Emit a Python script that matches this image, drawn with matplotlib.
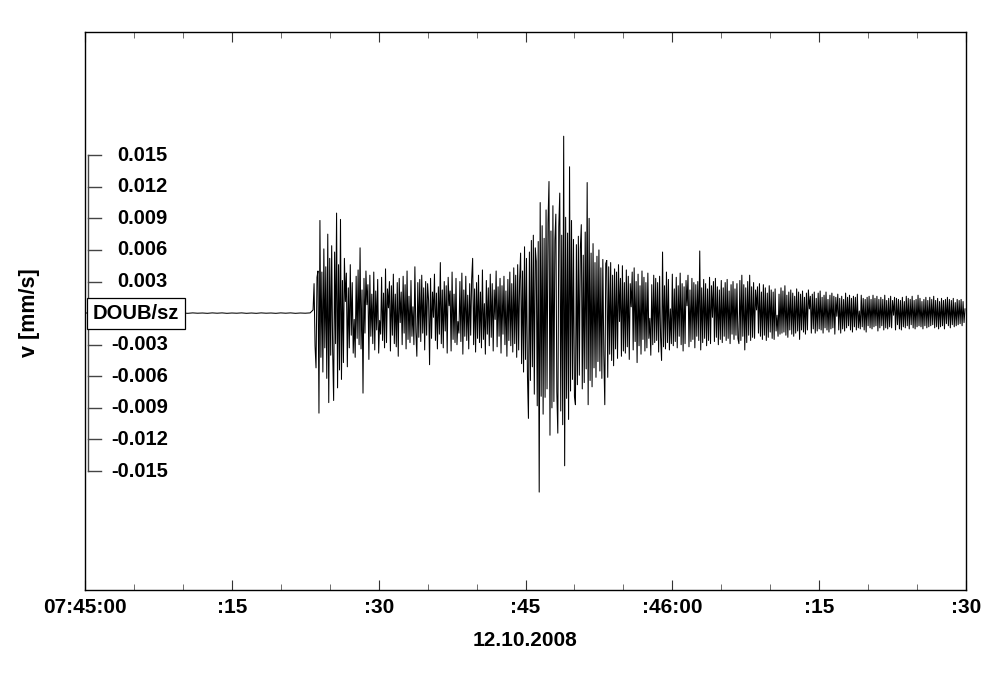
import numpy as np # import numpy
import matplotlib # import matplotlib
matplotlib.use("Agg")
import matplotlib.pyplot as plt # import plotting
import matplotlib.transforms as mtransforms

### station, date and units

station = "DOUB/sz"
date_label = "12.10.2008"
unit_label = "v [mm/s]"

### x axis: seconds after 07:45:00

x_ticks = [0, 15, 30, 45, 60, 75, 90]
x_tick_labels = ["07:45:00", ":15", ":30", ":45", ":46:00", ":15", ":30"]

### amplitude scale bar values [mm/s]

scale_values = [0.015, 0.012, 0.009, 0.006, 0.003, -0.003, -0.006, -0.009, -0.012, -0.015]
scale_labels = ["0.015", "0.012", "0.009", "0.006", "0.003", "-0.003", "-0.006", "-0.009", "-0.012", "-0.015"]

### pre-event noise, two values per second from 07:45:00 (units of 0.001 mm/s)

pre_event = [0.02, -0.01, 0.02, -0.02, 0.01, -0.02, 0.02, -0.01, 0.01, -0.02, 0.02, -0.01,
             0.02, -0.02, 0.01, -0.02, 0.02, -0.01, 0.02, -0.01, 0.01, -0.02, 0.02, -0.01,
             0.01, -0.02, 0.02, -0.01, 0.02, -0.02, 0.01, -0.01, 0.02, -0.02, 0.01, -0.02,
             0.02, -0.01, 0.01, -0.02, 0.02, -0.01, 0.02, -0.02, 0.01, -0.01, 0.02]

### event trace, 10 samples per second from onset at 23.3 s (units of 0.001 mm/s)

onset = 23.3
dt = 0.1

event = [
    0.3, 2.8, -3.1, -5.2, 3.4, 4.0, -9.5, 8.8, -4.2, 3.9,
    -5.6, 6.1, -3.3, 4.4, -6.2, 7.5, -8.5, 5.2, -4.0, 6.4,
    -3.6, -8.3, 5.8, -2.9, 9.5, -7.1, 4.6, -5.4, 8.9, -6.3,
    3.1, -4.7, 5.2, 1.1, 3.8, -5.1, 2.4, -3.3, 4.6, -2.1,
    2.9, -3.8, -0.6, -4.2, 3.5, -2.4, 4.1, -3.0, 6.2, -3.4,
    2.2, -7.6, 3.3, -1.9, 4.0, 0.8, 2.7, -4.4, 3.6, -2.2,
    1.8, -2.9, 3.9, -3.5, 2.1, -1.6, 3.2, -3.8, -0.7, -2.0,
    3.4, -2.6, 1.9, -3.3, 4.2, -2.8, 2.3, 0.5, 3.0, -3.6,
    2.6, -2.1, 3.7, -2.9, 1.8, -3.2, 2.9, -4.1, 3.3, -0.9,
    2.0, -3.0, 3.5, -1.9, 2.7, -3.4, 4.0, -2.5, 1.6, -2.8,
    3.1, -2.2, 0.6, -3.0, 4.4, -1.8, -4.1, 2.9, -2.3, 3.2,
    -2.7, 3.6, -1.9, 2.4, -3.5, 3.0, -2.1, 2.8, 1.2, -4.9,
    3.3, -2.4, 2.0, -0.4, 3.7, -2.6, 1.9, -3.4, 2.5, -2.0,
    4.8, -2.9, 2.2, -3.3, 3.0, -1.7, 2.6, -3.8, 3.4, 0.7,
    2.1, -3.6, 3.9, -2.5, 1.8, -2.8, 3.3, -3.0, -0.8, -1.9,
    3.0, -2.7, 3.8, -3.9, 2.2, -2.2, 3.5, -2.6, 1.7, -3.4,
    2.8, -2.1, 3.2, 5.2, -3.0, 2.3, -3.7, 2.9, -2.4, 3.6,
    -2.8, 2.0, -3.3, 4.1, -2.5, 0.9, -3.9, 3.1, -2.0, 2.4,
    -3.1, 3.7, -2.3, 2.8, -3.6, 2.2, -0.6, 4.0, -3.2, 2.5,
    -2.2, 3.3, -3.8, 2.6, -2.0, 3.5, -3.0, 2.1, -4.1, 3.2,
    -2.6, 3.9, -3.1, 2.8, -3.7, 4.3, -2.9, 3.6, -4.2, 4.6,
    -3.5, 3.1, 5.7, -4.8, 4.0, -5.6, 6.3, -4.4, 5.2, -6.0,
    -10.0, 5.8, -6.4, 6.9, -5.1, 7.4, -7.7, 6.2, 4.9, -8.8,
    6.8, -17.0, 10.5, -7.9, 8.3, -9.6, 7.1, -8.0, 9.8, -7.2,
    8.6, 12.5, -11.6, 7.8, -9.0, 10.2, -8.4, 6.9, 9.4, -7.5,
    -11.4, 8.2, 11.4, -9.3, 7.4, -10.6, 16.8, -14.5, 9.1, -8.1,
    7.6, -10.1, 13.9, -7.4, 8.8, -6.3, 7.0, -7.9, -8.7, 6.5,
    -6.8, 7.3, -5.9, 6.1, 8.4, -7.2, 5.5, -6.6, 7.7, -5.3,
    12.4, -8.7, 9.0, -6.4, 5.7, -7.0, 6.6, -5.2, 4.8, -6.1,
    5.4, -4.6, 6.0, -5.5, 4.3, -6.2, 5.1, -4.0, -8.7, 4.7,
    5.0, -6.1, 4.4, -3.9, 4.8, -4.5, 3.6, -5.0, 4.2, -3.4,
    3.9, -4.3, 4.6, -0.8, 3.3, -4.1, 4.5, -3.6, 2.9, -3.8,
    4.1, -3.2, 3.5, -4.4, 2.8, 0.6, 3.9, -3.5, 4.3, -2.7,
    3.0, -4.7, 3.7, -3.1, 2.6, -3.9, 4.0, -2.5, 3.4, -3.6,
    2.9, -3.3, 3.8, -2.4, -0.5, -4.0, 2.7, -3.0, 3.6, -2.8,
    3.3, -2.6, 2.9, -3.7, 3.5, -2.3, -4.5, 5.8, -3.2, 2.6,
    -3.4, 3.9, -2.8, 3.2, -3.5, 0.4, -2.9, 3.7, -3.1, 2.3,
    -2.7, 3.4, -3.3, 2.6, -2.2, 3.8, -3.0, 2.8, -3.6, 2.5,
    -2.9, 3.1, 0.7, 3.6, -3.2, 2.2, -2.7, 3.3, -2.5, 2.9,
    -3.3, 2.7, -2.2, 3.0, -2.6, 5.9, -3.5, 2.4, -2.8, 3.2,
    -2.4, 2.8, -3.1, 2.3, -2.6, 3.4, -2.9, 2.6, -0.4, 3.0,
    -2.7, 3.3, -2.3, 2.5, -3.0, 2.2, -2.5, 3.1, -2.8, 2.4,
    -2.2, 2.9, -2.6, 3.2, -2.4, 2.1, -2.9, 2.7, -2.0, 3.0,
    -2.5, 2.3, -2.1, 2.8, -2.4, -2.9, 3.1, -2.6, 3.6, -2.2,
    2.7, -3.5, 2.4, -2.8, 3.0, -2.1, 3.6, -2.6, 2.5, -2.3,
    2.9, -2.4, 2.2, 0.3, 2.5, -1.9, 2.8, -2.2, 2.0, -2.5,
    2.7, -2.1, 2.4, -2.6, 1.9, -2.3, 2.6, -1.8, 2.2, -2.4,
    2.0, -2.5, 2.3, -1.7, -0.2, -2.2, 1.8, -2.0, 2.4, -1.9,
    2.1, -1.8, 2.6, -2.1, 1.7, -2.3, 2.0, -1.6, 2.2, -2.0,
    1.9, -2.2, 1.6, -1.9, 2.3, -1.7, 2.0, -2.5, 1.8, -1.6,
    2.1, -1.8, 1.5, -2.0, 1.9, -1.6, 2.2, 0.4, 1.6, -1.9,
    1.8, -1.5, 2.0, -1.9, 1.4, -1.7, 1.9, -1.5, 2.1, -1.6,
    1.5, -1.9, 1.7, -1.4, 2.0, -1.6, 1.3, -1.8, 1.7, -1.5,
    1.9, -1.4, 1.6, -2.0, 1.5, -0.3, 1.8, -1.6, 1.4, -1.9,
    1.6, -1.5, 1.3, -1.7, 1.9, -1.4, 1.5, -1.2, 1.7, -1.6,
    1.4, -1.8, 1.6, -1.3, 1.5, -1.6, 1.8, -1.4, 0.2, -1.5,
    1.7, -1.3, 1.4, -1.6, 1.3, -1.8, 1.5, -1.2, 1.6, -1.4,
    1.3, -1.5, 1.7, -1.3, 1.4, -1.2, 1.6, -1.7, 1.3, -1.4,
    1.5, -1.2, 1.3, -1.6, 1.7, -1.4, 1.2, -1.5, 1.4, -1.3,
    1.6, -1.4, 1.2, -0.2, 1.5, -1.6, 1.4, -1.1, 1.3, -1.5,
    1.2, -1.6, 1.5, -1.3, 1.1, -1.4, 1.6, -1.2, 1.4, -1.5,
    1.3, -1.1, 1.6, -1.4, 1.2, -1.5, 1.3, -1.3, 1.7, -1.2,
    1.4, -1.3, 1.1, -1.5, 1.3, -1.2, 1.5, -1.4, 1.2, -1.3,
    1.5, -1.2, 1.3, -1.1, 1.6, -1.4, 1.2, -1.3, 1.4, -1.5,
    1.1, -1.3, 1.4, -1.2, 1.2, -1.5, 1.3, -1.0, 1.5, -1.2,
    1.3, -1.4, 1.2, -1.1, 1.4, -1.3, 1.0, -1.2, 1.3, -1.1,
    1.2, -1.0, 1.3, -1.2, 1.1, -0.9, 0.4,
]

### build time axis and convert to mm/s

t_pre = np.arange(len(pre_event)) * 0.5
v_pre = np.array(pre_event) * 0.001

t_event = onset + np.arange(len(event)) * dt
v_event = np.array(event) * 0.001

t_all = np.concatenate([t_pre[t_pre < onset], t_event])
v_all = np.concatenate([v_pre[t_pre < onset], v_event])

### figure

plt.rcParams['font.family'] = ['Liberation Sans', 'DejaVu Sans']
plt.rcParams['font.weight'] = 'bold'

fig = plt.figure(figsize=(10, 6.77), dpi=100)
ax = fig.add_axes([0.085, 1 - 590 / 677, 0.881, (590 - 32) / 677])

ax.plot(t_all, v_all, color="black", linewidth=0.75, zorder=2)

ax.set_xlim(0, 90)
ax.set_ylim(-0.0263, 0.0267)

# time ticks on top and bottom, pointing in
ax.set_xticks(x_ticks)
ax.set_xticklabels(x_tick_labels, fontweight='bold', fontsize=15)
ax.set_xticks(np.arange(0, 91, 5), minor=True)
ax.tick_params(axis='x', which='major', direction='in', length=7, width=0.8,
               top=True, bottom=True, pad=6, color='#333333')
ax.tick_params(axis='x', which='minor', direction='in', length=4, width=0.6,
               top=True, bottom=True, color='#555555')
ax.set_yticks([])
for s in ax.spines.values():
    s.set_linewidth(1.0)

ax.set_xlabel(date_label, fontweight='bold', fontsize=15, labelpad=10)

# amplitude scale bar inside the left edge of the axes
trans = mtransforms.blended_transform_factory(ax.transAxes, ax.transData)
ax.plot([0.0034, 0.0034], [scale_values[0], scale_values[-1]], color='#444444',
        linewidth=1.0, transform=trans, clip_on=False)
for v, lab in zip(scale_values, scale_labels):
    ax.plot([0.0034, 0.018], [v, v], color='#444444', linewidth=1.0, transform=trans)
    ax.text(0.094, v, lab, transform=trans, ha='right', va='center',
            fontsize=14.5, fontweight='bold')

# station label box
ax.text(0.009, 0.0, station, transform=trans, ha='left', va='center', fontsize=14.5,
        fontweight='bold', zorder=5,
        bbox=dict(boxstyle='square,pad=0.3', facecolor='white', edgecolor='black', linewidth=0.9))

fig.text(0.03, 1 - 313 / 677, unit_label, rotation=90, ha='center', va='center',
         fontsize=15.5, fontweight='bold')

plt.savefig('out.png', dpi=100)
